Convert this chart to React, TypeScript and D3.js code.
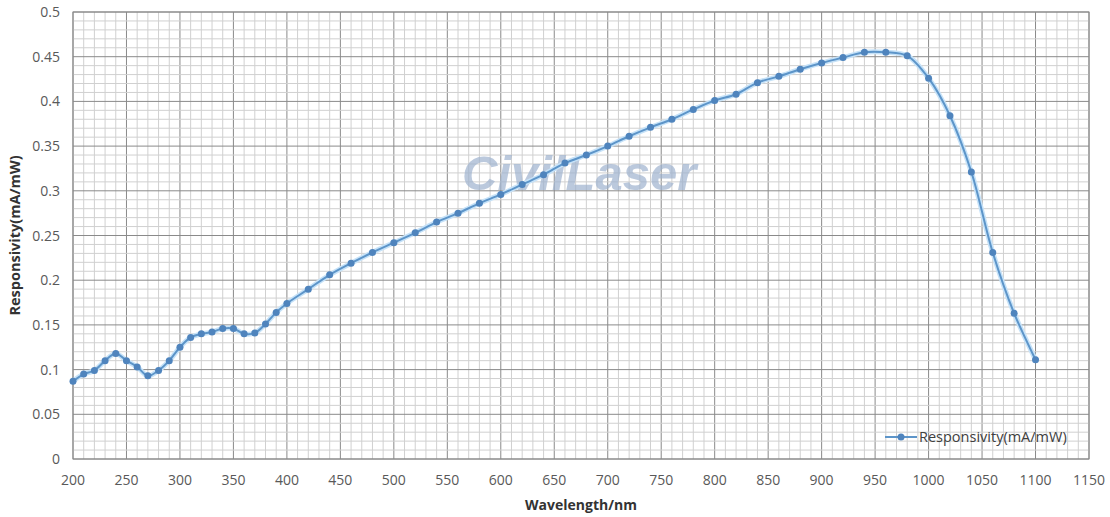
import React, { useEffect, useRef } from "react";
import * as d3 from "d3";

// wavelength (nm) and responsivity (mA/mW)
const wavelengths = [
  200, 210, 220, 230, 240, 250, 260, 270, 280, 290, 300, 310, 320, 330, 340, 350, 360, 370, 380, 390, 400,
  420, 440, 460, 480, 500, 520, 540, 560, 580, 600, 620, 640, 660, 680, 700, 720, 740, 760, 780, 800,
  820, 840, 860, 880, 900, 920, 940, 960, 980, 1000, 1020, 1040, 1060, 1080, 1100,
];
const responsivity = [
  0.087, 0.095, 0.099, 0.11, 0.118, 0.11, 0.103, 0.093, 0.099, 0.11, 0.125, 0.136, 0.14, 0.142, 0.146, 0.146,
  0.14, 0.141, 0.151, 0.164, 0.174, 0.19, 0.206, 0.219, 0.231, 0.242, 0.253, 0.265, 0.275, 0.286, 0.296,
  0.307, 0.318, 0.331, 0.34, 0.35, 0.361, 0.371, 0.38, 0.391, 0.401, 0.408, 0.421, 0.428, 0.436, 0.443,
  0.449, 0.455, 0.455, 0.451, 0.426, 0.384, 0.321, 0.231, 0.163, 0.111,
];
const xTicks = d3.range(200, 1151, 50);
const yTicks = d3.range(0, 0.501, 0.05);
const seriesName = "Responsivity(mA/mW)";

const W = 1110;
const H = 517;

export default function App() {
  const svgRef = useRef<SVGSVGElement>(null);

  useEffect(() => {
    const svg = d3.select(svgRef.current);
    svg.selectAll("*").remove();

    const margin = { top: 12, right: 21, bottom: 58, left: 73 };
    const x = d3.scaleLinear().domain([200, 1150]).range([margin.left, W - margin.right]);
    const y = d3.scaleLinear().domain([0, 0.5]).range([H - margin.bottom, margin.top]);

    svg.append("rect").attr("width", W).attr("height", H).attr("fill", "#fff");

    // grid: minor every 10 nm / 0.01, major every 50 nm / 0.05
    const g = svg.append("g");
    d3.range(200, 1151, 10).forEach((v) => {
      g.append("line")
        .attr("x1", x(v)).attr("x2", x(v))
        .attr("y1", y(0)).attr("y2", y(0.5))
        .attr("stroke", v % 50 === 0 ? "#8a8a8a" : "#d0d0d0")
        .attr("stroke-width", 1);
    });
    d3.range(0, 51, 1).forEach((i) => {
      const v = i / 100;
      g.append("line")
        .attr("x1", x(200)).attr("x2", x(1150))
        .attr("y1", y(v)).attr("y2", y(v))
        .attr("stroke", i % 5 === 0 ? "#8a8a8a" : "#d0d0d0")
        .attr("stroke-width", 1);
    });
    g.append("rect")
      .attr("x", x(200)).attr("y", y(0.5))
      .attr("width", x(1150) - x(200)).attr("height", y(0) - y(0.5))
      .attr("fill", "none").attr("stroke", "#8a8a8a");

    // watermark
    svg.append("text")
      .attr("x", 462).attr("y", 190)
      .attr("font-family", "Liberation Sans, Arial, sans-serif")
      .attr("font-weight", "bold").attr("font-style", "italic")
      .attr("font-size", 49)
      .attr("fill", "#9fb3cf").attr("opacity", 0.7)
      .text("CivilLaser");

    // tick labels
    svg.append("g").selectAll("text").data(yTicks).join("text")
      .attr("x", 60).attr("y", (d) => y(d) + 5)
      .attr("text-anchor", "end")
      .attr("font-family", "Open Sans, sans-serif").attr("font-size", 14)
      .attr("fill", "#595959")
      .text((d) => d3.format("~g")(+d.toFixed(2)));
    svg.append("g").selectAll("text").data(xTicks).join("text")
      .attr("x", (d) => x(d)).attr("y", 485)
      .attr("text-anchor", "middle")
      .attr("font-family", "Open Sans, sans-serif").attr("font-size", 14)
      .attr("fill", "#595959")
      .text((d) => d);

    // axis titles, centred on the plot area
    svg.append("text")
      .attr("x", (x(200) + x(1150)) / 2).attr("y", 510)
      .attr("text-anchor", "middle")
      .attr("font-family", "Open Sans, sans-serif").attr("font-weight", "bold")
      .attr("font-size", 14).attr("fill", "#333")
      .text("Wavelength/nm");
    svg.append("text")
      .attr("transform", `translate(20,${(y(0) + y(0.5)) / 2}) rotate(-90)`)
      .attr("text-anchor", "middle")
      .attr("font-family", "Open Sans, sans-serif").attr("font-weight", "bold")
      .attr("font-size", 14.5).attr("fill", "#333")
      .text("Responsivity(mA/mW)");

    // series
    const pts: [number, number][] = wavelengths.map((w, i) => [w, responsivity[i]]);
    const line = d3.line<[number, number]>()
      .x((d) => x(d[0])).y((d) => y(d[1]))
      .curve(d3.curveCatmullRom.alpha(0.5));
    svg.append("path").attr("d", line(pts)).attr("fill", "none")
      .attr("stroke", "#c6e2f8").attr("stroke-width", 5).attr("stroke-linejoin", "round");
    svg.append("path").attr("d", line(pts)).attr("fill", "none")
      .attr("stroke", "#5d95c9").attr("stroke-width", 2);
    svg.append("g").selectAll("circle").data(pts).join("circle")
      .attr("cx", (d) => x(d[0])).attr("cy", (d) => y(d[1]))
      .attr("r", 3.5).attr("fill", "#4f84bd");

    // legend
    const lg = svg.append("g").attr("transform", "translate(885,437)");
    lg.append("line").attr("x1", 0).attr("x2", 32).attr("stroke", "#5d95c9").attr("stroke-width", 2);
    lg.append("circle").attr("cx", 16).attr("r", 3.5).attr("fill", "#4f84bd");
    lg.append("text").attr("x", 34).attr("y", 5)
      .attr("font-family", "Open Sans, sans-serif").attr("font-size", 14.5)
      .attr("fill", "#404040")
      .text(seriesName);
  }, []);

  return (
    <svg ref={svgRef} width={W} height={H} style={{ position: "absolute", left: 0, top: 0 }} />
  );
}
